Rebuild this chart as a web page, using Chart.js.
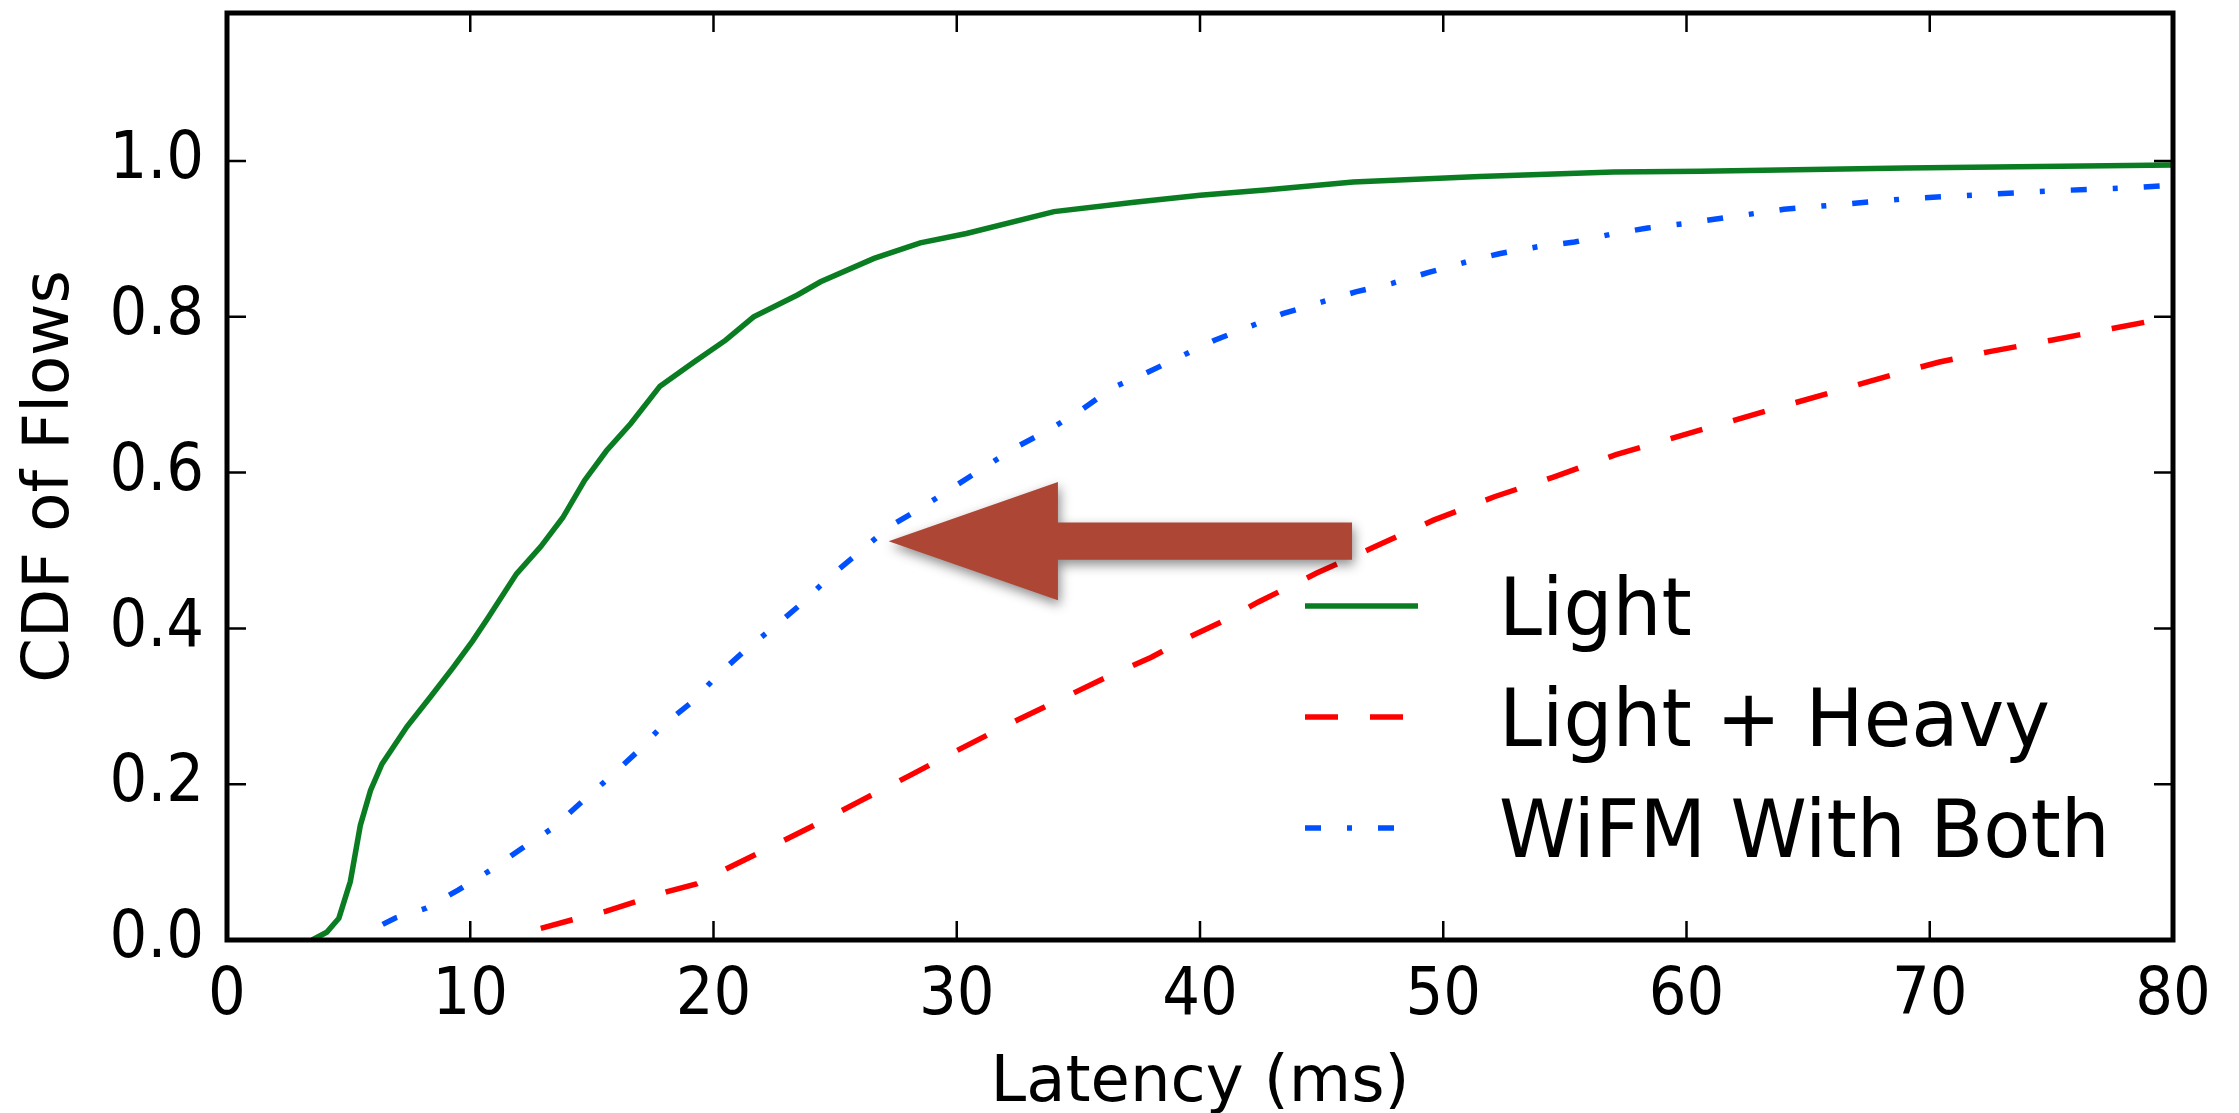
<!DOCTYPE html>
<html>
<head>
<meta charset="utf-8">
<script src="https://cdn.jsdelivr.net/npm/chart.js@4.4.1/dist/chart.umd.min.js"></script>
<style>
  html, body { margin: 0; padding: 0; background: #fff; }
  canvas { display: block; }
</style>
</head>
<body>
<canvas id="cdf" width="2239" height="1113"></canvas>
<script>
// latency (ms) / CDF pairs
const lightX = [3.5, 4.1, 4.6, 5.07, 5.48, 5.9, 6.37, 7.4, 8.36, 9.3, 10.1, 10.7, 11.9, 12.9, 13.8, 14.7, 15.6, 16.6, 17.8, 19.2, 20.5, 21.65, 23.45, 24.4, 26.6, 28.5, 30.4, 34.0, 37.3, 40.0, 42.8, 46.3, 51.5, 57.0, 60.6, 69.0, 80];
const lightY = [0, 0.01, 0.028, 0.075, 0.147, 0.192, 0.226, 0.274, 0.312, 0.35, 0.384, 0.412, 0.47, 0.505, 0.542, 0.59, 0.628, 0.663, 0.711, 0.742, 0.77, 0.8, 0.828, 0.845, 0.875, 0.895, 0.907, 0.935, 0.947, 0.956, 0.963, 0.973, 0.98, 0.986, 0.987, 0.991, 0.995];

const heavyX = [12.9, 14.2, 15.6, 16.8, 18.1, 19.3, 20.5, 22, 24, 26, 28, 30, 32, 34, 36, 38, 39.5, 41.2, 42.4, 44.8, 47.2, 49.6, 52.1, 54.5, 57.1, 59.6, 64.5, 69.2, 70.4, 72.4, 75.0, 77.5, 80];
const heavyY = [0.015, 0.026, 0.037, 0.049, 0.062, 0.072, 0.091, 0.114, 0.145, 0.178, 0.21, 0.243, 0.275, 0.305, 0.335, 0.363, 0.388, 0.413, 0.434, 0.471, 0.505, 0.539, 0.569, 0.594, 0.623, 0.646, 0.69, 0.732, 0.742, 0.755, 0.77, 0.785, 0.8];

const wifmX = [6.4, 6.9, 8.2, 9.5, 10.8, 12.1, 13.4, 14.5, 15.7, 16.85, 17.9, 19.1, 20.2, 21.45, 22.5, 23.7, 24.8, 26.0, 27.2, 28.5, 29.8, 31.1, 32.4, 33.8, 35.1, 36.4, 37.8, 39.2, 40.6, 42.0, 43.4, 44.9, 46.4, 47.9, 49.4, 50.9, 52.3, 53.9, 55.4, 56.9, 58.4, 60.0, 64.0, 69.2, 72.3, 75.3, 78.5, 80];
const wifmY = [0.02, 0.028, 0.041, 0.064, 0.089, 0.117, 0.144, 0.175, 0.208, 0.241, 0.275, 0.305, 0.341, 0.376, 0.402, 0.434, 0.467, 0.498, 0.53, 0.554, 0.58, 0.606, 0.632, 0.655, 0.68, 0.709, 0.728, 0.749, 0.77, 0.787, 0.804, 0.818, 0.832, 0.843, 0.857, 0.87, 0.881, 0.89, 0.896, 0.906, 0.914, 0.92, 0.938, 0.952, 0.957, 0.962, 0.966, 0.969];

const seriesLabels = ["Light", "Light + Heavy", "WiFM With Both"];
const xTicks = [0, 10, 20, 30, 40, 50, 60, 70, 80];
const yTicks = [0, 0.2, 0.4, 0.6, 0.8, 1.0];

// the pasted arrow, in data units: tip, head base, tail, half heights
const arrowTip = [27.2, 0.512];
const arrowHeadBase = 34.16;
const arrowTail = 46.25;
const arrowHeadHalf = 0.076;
const arrowShaftHalf = 0.024;

const TICK_FONT = "'DejaVu Sans Condensed', 'DejaVu Sans', sans-serif";
const TITLE_FONT = "'DejaVu Sans', sans-serif";

const toPoints = (xs, ys) => xs.map((x, i) => ({ x, y: ys[i] }));

const frameAndTicks = {
  id: "frameAndTicks",
  afterDatasetsDraw(chart) {
    const { ctx, chartArea: a, scales } = chart;
    ctx.save();
    ctx.strokeStyle = "#000";
    ctx.lineWidth = 2.5;
    const len = 19;
    xTicks.slice(1, -1).forEach((v) => {
      const px = scales.x.getPixelForValue(v);
      ctx.beginPath();
      ctx.moveTo(px, a.bottom);
      ctx.lineTo(px, a.bottom - len);
      ctx.moveTo(px, a.top);
      ctx.lineTo(px, a.top + len);
      ctx.stroke();
    });
    yTicks.slice(1).forEach((v) => {
      const py = scales.y.getPixelForValue(v);
      ctx.beginPath();
      ctx.moveTo(a.left, py);
      ctx.lineTo(a.left + len, py);
      ctx.moveTo(a.right, py);
      ctx.lineTo(a.right - len, py);
      ctx.stroke();
    });
    ctx.lineWidth = 5;
    ctx.strokeRect(a.left, a.top, a.right - a.left, a.bottom - a.top);
    ctx.restore();
  },
};

const lineLegend = {
  id: "lineLegend",
  afterDatasetsDraw(chart) {
    const { ctx } = chart;
    ctx.save();
    chart.data.datasets.forEach((ds, i) => {
      const y = 606 + i * 111;
      ctx.beginPath();
      ctx.strokeStyle = ds.borderColor;
      ctx.lineWidth = ds.borderWidth;
      ctx.setLineDash(ds.borderDash || []);
      ctx.moveTo(1305, y);
      ctx.lineTo(1418, y);
      ctx.stroke();
      ctx.setLineDash([]);
      // the legend text in the figure is a little wider than the condensed face
      ctx.save();
      ctx.translate(1499, y + 29);
      ctx.scale(1.06, 1);
      ctx.fillStyle = "#000";
      ctx.font = `81px ${TICK_FONT}`;
      ctx.textBaseline = "alphabetic";
      ctx.fillText(ds.label, 0, 0);
      ctx.restore();
    });
    ctx.restore();
  },
};

const bigArrow = {
  id: "bigArrow",
  afterDraw(chart) {
    const { ctx, scales } = chart;
    const X = (v) => scales.x.getPixelForValue(v);
    const Y = (v) => scales.y.getPixelForValue(v);
    const [tx, ty] = arrowTip;
    ctx.save();
    ctx.shadowColor = "rgba(0, 0, 0, 0.45)";
    ctx.shadowBlur = 12;
    ctx.shadowOffsetX = 2;
    ctx.shadowOffsetY = 5;
    ctx.fillStyle = "#ae4636";
    ctx.beginPath();
    ctx.moveTo(X(tx), Y(ty));
    ctx.lineTo(X(arrowHeadBase), Y(ty + arrowHeadHalf));
    ctx.lineTo(X(arrowHeadBase), Y(ty + arrowShaftHalf));
    ctx.lineTo(X(arrowTail), Y(ty + arrowShaftHalf));
    ctx.lineTo(X(arrowTail), Y(ty - arrowShaftHalf));
    ctx.lineTo(X(arrowHeadBase), Y(ty - arrowShaftHalf));
    ctx.lineTo(X(arrowHeadBase), Y(ty - arrowHeadHalf));
    ctx.closePath();
    ctx.fill();
    ctx.restore();
  },
};

new Chart(document.getElementById("cdf"), {
  type: "line",
  data: {
    datasets: [
      {
        label: seriesLabels[0],
        data: toPoints(lightX, lightY),
        borderColor: "#0a7d22",
        borderWidth: 5.5,
      },
      {
        label: seriesLabels[1],
        data: toPoints(heavyX, heavyY),
        borderColor: "#ff0000",
        borderWidth: 5.5,
        borderDash: [33, 32],
      },
      {
        label: seriesLabels[2],
        data: toPoints(wifmX, wifmY),
        borderColor: "#0050ff",
        borderWidth: 5.5,
        borderDash: [16, 26, 5, 26],
      },
    ],
  },
  options: {
    responsive: false,
    devicePixelRatio: 1,
    animation: false,
    layout: { padding: { left: 0, right: 66, top: 13, bottom: 0 } },
    elements: {
      point: { radius: 0 },
      line: { tension: 0, borderCapStyle: "butt" },
    },
    plugins: { legend: { display: false }, tooltip: { enabled: false } },
    scales: {
      x: {
        type: "linear",
        min: 0,
        max: 80,
        afterBuildTicks: (s) => { s.ticks = xTicks.map((value) => ({ value })); },
        afterFit: (s) => {
          s.height = 173;
          s.paddingLeft = 0;
          s.paddingRight = 0;
        },
        grid: { display: false },
        border: { display: false },
        ticks: {
          color: "#000",
          padding: 9,
          maxRotation: 0,
          font: { family: TICK_FONT, size: 66 },
        },
        title: {
          display: true,
          text: "Latency (ms)",
          color: "#000",
          font: { family: TITLE_FONT, size: 64 },
          padding: { top: 0, bottom: -10 },
        },
      },
      y: {
        min: 0,
        max: 1.19,
        afterBuildTicks: (s) => { s.ticks = yTicks.map((value) => ({ value })); },
        afterFit: (s) => {
          s.width = 227;
          s.paddingTop = 0;
          s.paddingBottom = 0;
        },
        grid: { display: false },
        border: { display: false },
        ticks: {
          color: "#000",
          padding: 15,
          callback: (v) => v.toFixed(1),
          font: { family: TICK_FONT, size: 66 },
        },
        title: {
          display: true,
          text: "CDF of Flows",
          color: "#000",
          font: { family: TITLE_FONT, size: 64 },
          padding: { top: 13, bottom: 0 },
        },
      },
    },
  },
  plugins: [frameAndTicks, lineLegend, bigArrow],
});
</script>
</body>
</html>
